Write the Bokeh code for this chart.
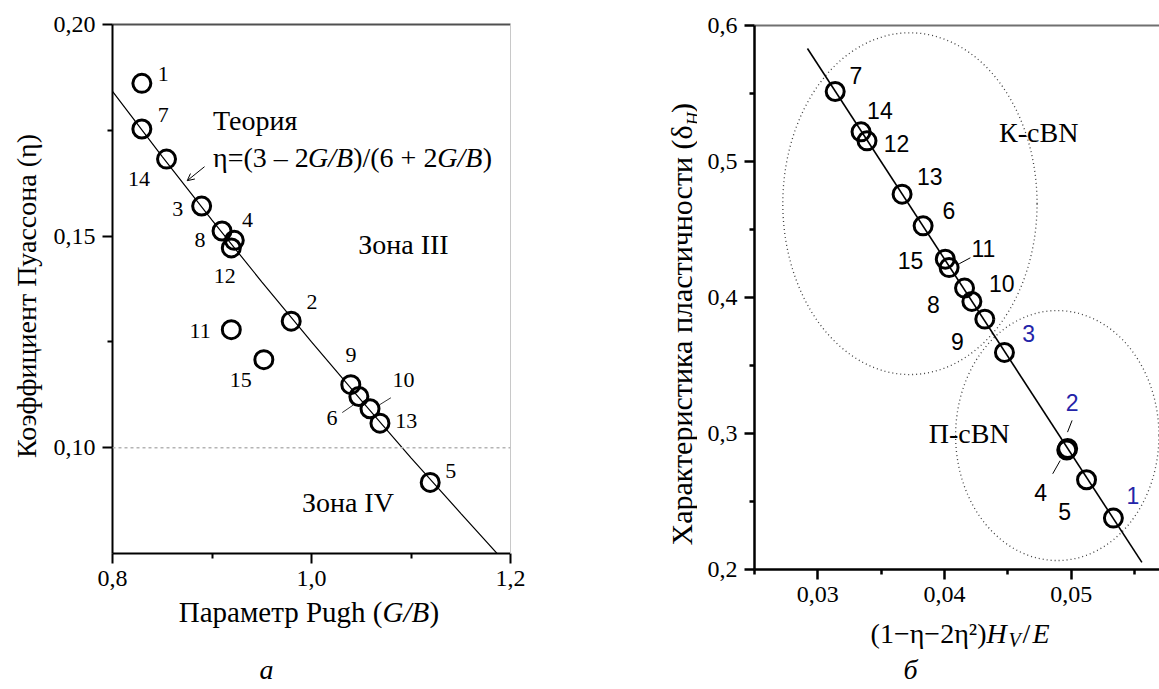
import math
from bokeh.plotting import figure
from bokeh.models import (Range1d, FixedTicker, LinearAxis, Label, Span, Arrow, OpenHead)
from bokeh.layouts import row, column
from bokeh.embed import file_html
from bokeh.resources import INLINE
from bokeh.core.properties import value

SERIF = "Liberation Serif"
SANS = "Liberation Sans"
BLUE = "#2424a8"

# ---------------- panel "а": Poisson ratio vs Pugh parameter ----------------
a_names = ["1", "7", "14", "3", "8", "4", "12", "2", "11", "15", "9", "6", "10", "13", "5"]
a_gb = [0.8295, 0.8295, 0.8543, 0.8896, 0.9101, 0.9224, 0.9194, 0.9796, 0.9194,
        0.9521, 1.0395, 1.0476, 1.0588, 1.0688, 1.1193]
a_eta = [0.1861, 0.1753, 0.1682, 0.1571, 0.1512, 0.1490, 0.1472, 0.1299, 0.1279,
         0.1208, 0.1149, 0.1121, 0.1092, 0.1058, 0.0918]
a_lab_x = [0.8509, 0.8509, 0.8267, 0.8657, 0.8880, 0.9356, 0.9129, 1.0006, 0.8880,
           0.9288, 1.0396, 1.0206, 1.0924, 1.0953, 1.1399]
a_lab_y = [0.1884, 0.1785, 0.1636, 0.1565, 0.1490, 0.1537, 0.1405, 0.1345, 0.1275,
           0.1159, 0.1218, 0.1071, 0.1159, 0.1063, 0.0944]
# theory curve eta=(3-2G/B)/(6+2G/B)
theory_gb = [0.80, 0.85, 0.90, 0.95, 1.00, 1.05, 1.10, 1.15, 1.19]
theory_eta = [0.1842, 0.1688, 0.1538, 0.1392, 0.1250, 0.1112, 0.0976, 0.0845, 0.0741]
a_zone_boundary = 0.10
a_xticks = [0.8, 1.0, 1.2]
a_xtick_labels = ["0,8", "1,0", "1,2"]
a_xminor = [0.9, 1.1]
a_yticks = [0.10, 0.15, 0.20]
a_ytick_labels = ["0,10", "0,15", "0,20"]
a_yminor = [0.125, 0.175]

# ---------------- panel "б": plasticity vs (1-eta-2eta^2)Hv/E ----------------
b_names = ["7", "14", "12", "13", "6", "15", "11", "10", "8", "9", "3", "2", "4", "5", "1"]
b_x = [0.03137, 0.03341, 0.03388, 0.03665, 0.03831, 0.04006, 0.04036, 0.04158, 0.04216,
       0.04318, 0.04473, 0.04972, 0.04965, 0.05121, 0.05333]
b_delta = [0.5515, 0.5218, 0.5152, 0.4760, 0.4527, 0.4282, 0.4220, 0.4069, 0.3971,
           0.3841, 0.3596, 0.2890, 0.2878, 0.2660, 0.2378]
b_lab_x = [0.03300, 0.03490, 0.03621, 0.03884, 0.04035, 0.03731, 0.04307, 0.04452, 0.03913,
           0.04102, 0.04665, 0.05007, 0.04759, 0.04948, 0.05487]
b_lab_y = [0.5632, 0.5375, 0.5135, 0.4890, 0.4640, 0.4272, 0.4358, 0.4101, 0.3949,
           0.3676, 0.3733, 0.3230, 0.2568, 0.2426, 0.2544]
b_lab_colors = ["black"] * 10 + [BLUE, BLUE, "black", "black", BLUE]
fit_x = [0.02918, 0.05558]
fit_delta = [0.5831, 0.2052]
group_names = ["К-cBN", "П-cBN"]
group_cx = [0.03727, 0.04890]
group_cy = [0.4690, 0.2985]
group_w = [0.02007, 0.01605]
group_h = [0.2513, 0.1838]
b_xticks = [0.03, 0.04, 0.05]
b_xtick_labels = ["0,03", "0,04", "0,05"]
b_xminor = [0.025, 0.035, 0.045, 0.055]
b_yticks = [0.2, 0.3, 0.4, 0.5, 0.6]
b_ytick_labels = ["0,2", "0,3", "0,4", "0,5", "0,6"]
b_yminor = [0.25, 0.35, 0.45, 0.55]


def style_axis(ax, ticks, minor, labels, lw, standoff):
    ax.ticker = FixedTicker(ticks=ticks, minor_ticks=minor)
    ax.major_label_overrides = dict(zip(ticks, labels))
    ax.axis_line_color = "black"
    ax.axis_line_width = lw
    ax.major_tick_in = 0
    ax.major_tick_out = 10
    ax.minor_tick_in = 0
    ax.minor_tick_out = 5
    ax.major_tick_line_width = lw
    ax.minor_tick_line_width = lw
    ax.major_tick_line_color = "black"
    ax.minor_tick_line_color = "black"
    ax.major_label_text_font = SERIF
    ax.major_label_text_font_size = "24px"
    ax.major_label_text_font_style = "normal"
    ax.major_label_text_color = "black"
    ax.major_label_standoff = standoff
    ax.axis_label = None


def frame_axis(p, side, color, lw):
    ax = LinearAxis(ticker=FixedTicker(ticks=[]), axis_line_color=color, axis_line_width=lw,
                    major_tick_line_color=None, minor_tick_line_color=None,
                    major_label_text_font_size="0px")
    p.add_layout(ax, side)


def lab(p, x, y, text, size="28px", font=SERIF, style="normal", align="center",
        baseline="middle", angle=0.0, color="black"):
    p.add_layout(Label(x=x, y=y, text=text, text_font=font, text_font_size=size,
                       text_font_style=style, text_align=align, text_baseline=baseline,
                       angle=angle, text_color=color))


def strip(width, height, x0, x1, y0, y1):
    """Blank figure (no axes) used only to hold axis-title text; units are page pixels."""
    s = figure(width=width, height=height, output_backend="svg", toolbar_location=None,
               title=None, x_range=Range1d(x0, x1), y_range=Range1d(y0, y1), min_border=0,
               x_axis_location=None, y_axis_location=None)
    s.grid.visible = False
    s.outline_line_color = None
    s.background_fill_color = "white"
    s.border_fill_color = "white"
    return s


# ======================= figure а =======================
pa = figure(width=532, height=600, output_backend="svg", toolbar_location=None, title=None,
            x_range=Range1d(0.8, 1.2), y_range=Range1d(0.075, 0.20),
            min_border_left=64, min_border_right=70, min_border_top=24, min_border_bottom=47)
pa.xgrid.visible = False
pa.ygrid.visible = False
pa.outline_line_color = None
pa.background_fill_color = "white"
pa.border_fill_color = "white"
style_axis(pa.xaxis[0], a_xticks, a_xminor, a_xtick_labels, 2, 7)
style_axis(pa.yaxis[0], a_yticks, a_yminor, a_ytick_labels, 2, 7)
frame_axis(pa, "above", "#505050", 2)
frame_axis(pa, "right", "#c8c8c8", 1)

pa.add_layout(Span(location=a_zone_boundary, dimension="width", line_color="#b4b4b4",
                   line_dash="3 3", line_width=1.5))
pa.line(theory_gb, theory_eta, line_color="black", line_width=1.2)
pa.scatter(a_gb, a_eta, size=18, marker="circle", fill_color=None, line_color="black",
           line_width=3)
pa.text(x=a_lab_x, y=a_lab_y, text=a_names, text_font=value(SERIF),
        text_font_size="22px", text_align="center", text_baseline="middle", text_color="black")
# leader lines for 10 and 6
pa.segment(x0=[1.0798, 1.0309], y0=[0.1118, 0.1083], x1=[1.0688, 1.0421], y1=[0.1102, 0.1101],
           line_color="black", line_width=0.8)
pa.add_layout(Arrow(end=OpenHead(size=7, line_width=1), x_start=0.8925, y_start=0.1664,
                    x_end=0.8751, y_end=0.1631, line_width=1))

lab(pa, 0.9010, 0.1773, "Теория", size="28px", align="left")
# formula η=(3 – 2G/B)/(6 + 2G/B) with italic G/B
fy = 0.1686
lab(pa, 0.9010, fy, "η=(3 – 2", size="28px", align="left")
lab(pa, 0.9966, fy, "G/B", size="28px", align="left", style="italic")
lab(pa, 1.0419, fy, ")/(6 + 2", size="28px", align="left")
lab(pa, 1.1265, fy, "G/B", size="28px", align="left", style="italic")
lab(pa, 1.1720, fy, ")", size="28px", align="left")

lab(pa, 1.0924, 0.1479, "Зона III", size="28px")
lab(pa, 1.0366, 0.0871, "Зона IV", size="28px")

# axis-title strips for panel а (page-pixel units)
ya = strip(48, 600, 0, 48, 600, 0)
lab(ya, 26, 308, "Коэффициент Пуассона (η)", size="28px", angle=math.pi / 2)
xa = strip(580, 89, 0, 580, 689, 600)
lab(xa, 382, 611, "Параметр Pugh (", size="29px", align="right", baseline="alphabetic")
lab(xa, 382, 611, "G/B", size="29px", align="left", baseline="alphabetic", style="italic")
lab(xa, 429, 611, ")", size="29px", align="left", baseline="alphabetic")
lab(xa, 266, 669, "а", size="28px", style="italic", baseline="alphabetic")

# ======================= figure б =======================
pb = figure(width=462, height=616, output_backend="svg", toolbar_location=None, title=None,
            x_range=Range1d(0.025, 0.05697), y_range=Range1d(0.2, 0.6),
            min_border_left=57, min_border_right=0, min_border_top=25, min_border_bottom=47)
pb.xgrid.visible = False
pb.ygrid.visible = False
pb.outline_line_color = None
pb.background_fill_color = "white"
pb.border_fill_color = "white"
style_axis(pb.xaxis[0], b_xticks, b_xminor, b_xtick_labels, 2.5, 7)
style_axis(pb.yaxis[0], b_yticks, b_yminor, b_ytick_labels, 2.5, 7)
frame_axis(pb, "above", "#707070", 2)

pb.ellipse(x=group_cx, y=group_cy, width=group_w, height=group_h, fill_color=None,
           line_color="#404040", line_width=1.3, line_dash="1 3")
pb.line(fit_x, fit_delta, line_color="black", line_width=1.6)
pb.scatter(b_x, b_delta, size=18, marker="circle", fill_color=None, line_color="black",
           line_width=3)
pb.text(x=b_lab_x, y=b_lab_y, text=b_names, text_font=value(SANS), text_font_size="23px",
        text_align="center", text_baseline="middle", text_color=b_lab_colors)
pb.segment(x0=[0.04116, 0.05007, 0.04854], y0=[0.4248, 0.3096, 0.2704],
           x1=[0.04204, 0.04971, 0.04913], y1=[0.4292, 0.3010, 0.2801],
           line_color="black", line_width=1)
lab(pb, 0.04744, 0.5215, group_names[0], size="28px")
lab(pb, 0.04195, 0.2998, group_names[1], size="28px")

# axis-title strips for panel б (page-pixel units)
yb = strip(117, 616, 580, 697, 616, 0)
lab(yb, 681, 113, "Характеристика пластичности (δ", size="30px", align="right",
    baseline="alphabetic", angle=math.pi / 2)
lab(yb, 693, 113, "H", size="18px", align="left", baseline="alphabetic",
    angle=math.pi / 2, style="italic")
lab(yb, 681, 99, ")", size="30px", align="left", baseline="alphabetic", angle=math.pi / 2)
xb = strip(579, 73, 580, 1159, 689, 616)
lab(xb, 986, 633, "(1−η−2η²)", size="28px", align="right", baseline="alphabetic")
lab(xb, 986, 633, "H", size="28px", align="left", baseline="alphabetic", style="italic")
lab(xb, 1008, 639, "V", size="20px", align="left", baseline="alphabetic", style="italic")
lab(xb, 1022, 633, "/", size="28px", align="left", baseline="alphabetic")
lab(xb, 1032, 633, "E", size="28px", align="left", baseline="alphabetic", style="italic")
lab(xb, 910, 669, "б", size="28px", style="italic", baseline="alphabetic")

layout = row(column(row(ya, pa, spacing=0), xa, spacing=0),
             column(row(yb, pb, spacing=0), xb, spacing=0), spacing=0)
open("out.html", "w").write(file_html(layout, INLINE))
